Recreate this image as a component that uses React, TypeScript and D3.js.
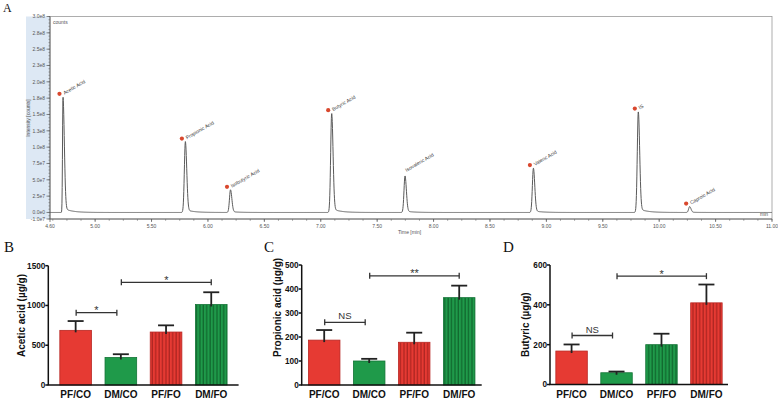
import React from "react";
import * as d3 from "d3";

// ---------- Panel A data (chromatogram peak table) ----------
const peakNames = ["Acetic Acid", "Propionic Acid", "Isobutyric Acid", "Butyric Acid", "Isovaleric Acid", "Valeric Acid", "IS", "Caproic Acid"];
const peakTimes = [4.715, 5.8, 6.2, 7.097, 7.747, 8.885, 9.815, 10.27];
const peakHeights = [1.77e8, 1.085e8, 3.47e7, 1.52e8, 5.6e7, 6.8e7, 1.545e8, 9e6];
const peakMarked = [true, true, true, true, false, true, true, true];

const timeTicks = [4.6, 5.0, 5.5, 6.0, 6.5, 7.0, 7.5, 8.0, 8.5, 9.0, 9.5, 10.0, 10.5, 11.0];
const timeTickLabels = ["4.60", "5.00", "5.50", "6.00", "6.50", "7.00", "7.50", "8.00", "8.50", "9.00", "9.50", "10.00", "10.50", "11.00"];
const intensityTicks = [-1e7, 0, 2.5e7, 5e7, 7.5e7, 1e8, 1.25e8, 1.5e8, 1.75e8, 2e8, 2.25e8, 2.5e8, 2.75e8, 3e8];
const intensityTickLabels = ["-1.0e7", "0.0e0", "2.5e7", "5.0e7", "7.5e7", "1.0e8", "1.3e8", "1.5e8", "1.8e8", "2.0e8", "2.3e8", "2.5e8", "2.8e8", "3.0e8"];

// ---------- Panels B-D data ----------
const groups = ["PF/CO", "DM/CO", "PF/FO", "DM/FO"];

const aceticMean = [687, 346, 666, 1012];
const aceticSem = [117, 41, 84, 154];
const aceticTicks = [0, 500, 1000, 1500];
const aceticSig = [
  { a: 0, b: 1, y: 909, label: "*" },
  { a: 1, b: 3, y: 1291, label: "*" },
];

const propionicMean = [187, 100, 178, 364];
const propionicSem = [42, 9, 40, 50];
const propionicTicks = [0, 100, 200, 300, 400, 500];
const propionicSig = [
  { a: 0, b: 1, y: 261, label: "NS" },
  { a: 1, b: 3, y: 455, label: "**" },
];

const butyricMean = [168, 59, 200, 410];
const butyricSem = [33, 6, 55, 92];
const butyricTicks = [0, 200, 400, 600];
const butyricSig = [
  { a: 0, b: 1, y: 246, label: "NS" },
  { a: 1, b: 3, y: 544, label: "*" },
];

const RED = "#e63a33";
const GREEN = "#1f9a4a";
const RED_DARK = "#9e1f1c";
const GREEN_DARK = "#0c5a27";

type Sig = { a: number; b: number; y: number; label: string };

function Chromatogram() {
  const x = d3.scaleLinear().domain([4.6, 11.0]).range([50, 772]);
  const y = d3.scaleLinear().domain([-1e7, 3e8]).range([219, 16.5]);

  const sL = 0.009;
  const sR = 0.012;
  const tailFrac = 0.04;
  const tau = 0.07;
  const signal = (t: number) => {
    let v = 0;
    for (let i = 0; i < peakTimes.length; i++) {
      const dt = t - peakTimes[i];
      const h = peakHeights[i];
      if (dt < 0) {
        const s = i === 0 ? 0.004 : sL;
        v += h * Math.exp(-0.5 * (dt / s) * (dt / s));
      } else {
        v += h * ((1 - tailFrac) * Math.exp(-0.5 * (dt / sR) * (dt / sR)) + tailFrac * Math.exp(-dt / tau));
      }
    }
    return v;
  };
  const ts = d3.range(4.6, 11.0001, 0.002);
  const line = d3
    .line<number>()
    .x((t) => x(t))
    .y((t) => y(signal(t)));

  const minorY = d3.range(-1e7, 3.0001e8, 5e6);
  const minorX = d3.range(4.625, 11.0001, 0.125);

  const fs = 5;
  return (
    <g fontFamily="Arial, 'Liberation Sans', sans-serif">
      <rect x={26} y={16.5} width={24} height={202.5} fill="#dde8f4" />
      <rect x={50} y={16.5} width={722} height={202.5} fill="#ffffff" stroke="#9a9a9a" strokeWidth={0.8} />
      <line x1={50} x2={50} y1={16.5} y2={219} stroke="#555" strokeWidth={0.8} />
      <line x1={50} x2={772} y1={219} y2={219} stroke="#555" strokeWidth={0.8} />
      {minorY.map((v, i) => (
        <line key={"my" + i} x1={48.5} x2={50} y1={y(v)} y2={y(v)} stroke="#666" strokeWidth={0.6} />
      ))}
      {intensityTicks.map((v, i) => (
        <g key={"yt" + i}>
          <line x1={46.5} x2={50} y1={y(v)} y2={y(v)} stroke="#555" strokeWidth={0.7} />
          <text x={45} y={y(v)} dy="0.35em" textAnchor="end" fontSize={fs} fill="#555">
            {intensityTickLabels[i]}
          </text>
        </g>
      ))}
      {minorX.map((v, i) => (
        <line key={"mx" + i} x1={x(v)} x2={x(v)} y1={219} y2={220.8} stroke="#666" strokeWidth={0.6} />
      ))}
      {timeTicks.map((v, i) => (
        <g key={"xt" + i}>
          <line x1={x(v)} x2={x(v)} y1={219} y2={222} stroke="#555" strokeWidth={0.7} />
          <text x={x(v)} y={227.5} textAnchor="middle" fontSize={fs} fill="#555">
            {timeTickLabels[i]}
          </text>
        </g>
      ))}
      <text x={398} y={234} fontSize={fs} fill="#555">Time [min]</text>
      <text transform="translate(30,118) rotate(-90)" textAnchor="middle" fontSize={fs} fill="#555">
        Intensity [counts]
      </text>
      <text x={53} y={24} fontSize={fs} fill="#555">counts</text>
      <text x={760} y={215.5} fontSize={fs} fill="#555">min</text>
      <path d={line(ts) || ""} fill="none" stroke="#5a5a5a" strokeWidth={1} />
      {peakTimes.map((t, i) => {
        const px = x(t);
        const py = y(peakHeights[i]);
        const mx = px - 3.5;
        const my = py - 3;
        return (
          <g key={"pk" + i}>
            {peakMarked[i] && <circle cx={mx} cy={my} r={2.1} fill="#d9482e" />}
            <text
              transform={`translate(${peakMarked[i] ? mx + 5 : px + 1.5},${peakMarked[i] ? my + 1 : py - 4}) rotate(-30)`}
              fontSize={5}
              fill="#444"
            >
              {peakNames[i]}
            </text>
          </g>
        );
      })}
    </g>
  );
}

type BarProps = {
  id: string;
  axisX: number;
  axisEnd: number;
  outer: number;
  yMax: number;
  yTop: number;
  yBottom: number;
  ticks: number[];
  means: number[];
  sems: number[];
  sig: Sig[];
  fills: string[];
  title: string;
  titleX: number;
  letter: string;
  letterX: number;
};

function BarPanel(p: BarProps) {
  const x = d3.scaleBand<string>().domain(groups).range([p.axisX, p.axisEnd]).paddingInner(0.3).paddingOuter(p.outer);
  const y = d3.scaleLinear().domain([0, p.yMax]).range([p.yBottom, p.yTop]);
  const bw = x.bandwidth();
  const c = (i: number) => (x(groups[i]) as number) + bw / 2;
  const fillOf = (k: string) =>
    k === "red" ? RED : k === "green" ? GREEN : k === "redS" ? `url(#${p.id}-rs)` : `url(#${p.id}-gs)`;
  const strokeOf = (k: string) => (k.startsWith("red") ? "#b82723" : "#137436");
  return (
    <g>
      <defs>
        <pattern id={`${p.id}-rs`} patternUnits="userSpaceOnUse" width={3.4} height={10} x={0}>
          <rect width={3.4} height={10} fill={RED} />
          <rect x={2.2} width={1} height={10} fill={RED_DARK} />
        </pattern>
        <pattern id={`${p.id}-gs`} patternUnits="userSpaceOnUse" width={3.4} height={10} x={0}>
          <rect width={3.4} height={10} fill={GREEN} />
          <rect x={2.2} width={1} height={10} fill={GREEN_DARK} />
        </pattern>
      </defs>
      <text x={p.letterX} y={251.5} fontFamily="'Liberation Serif', 'Times New Roman', serif" fontSize={15} fill="#111">
        {p.letter}
      </text>
      {groups.map((g, i) => {
        const top = y(p.means[i]);
        const et = y(p.means[i] + p.sems[i]);
        return (
          <g key={g}>
            <rect
              x={x(g)}
              y={top}
              width={bw}
              height={p.yBottom - top}
              fill={fillOf(p.fills[i])}
              stroke={strokeOf(p.fills[i])}
              strokeWidth={0.8}
            />
            <line x1={c(i)} x2={c(i)} y1={top + 2} y2={et} stroke="#222" strokeWidth={1.8} />
            <line x1={c(i) - 8} x2={c(i) + 8} y1={et} y2={et} stroke="#222" strokeWidth={1.8} />
          </g>
        );
      })}
      <line x1={p.axisX} x2={p.axisX} y1={p.yTop} y2={p.yBottom} stroke="#111" strokeWidth={1.5} />
      <line x1={p.axisX - 0.75} x2={p.axisEnd} y1={p.yBottom} y2={p.yBottom} stroke="#111" strokeWidth={1.5} />
      <g fontFamily="Arial, 'Liberation Sans', sans-serif" fontWeight="bold" fill="#111">
        {p.ticks.map((v) => (
          <g key={v}>
            <line x1={p.axisX - 3} x2={p.axisX} y1={y(v)} y2={y(v)} stroke="#111" strokeWidth={1.5} />
            <text x={p.axisX - 3} y={y(v)} dy="0.35em" textAnchor="end" fontSize={8.2}>
              {v}
            </text>
          </g>
        ))}
        {groups.map((g, i) => (
          <text key={g} x={c(i)} y={397.5} textAnchor="middle" fontSize={10}>
            {g}
          </text>
        ))}
        <text transform={`translate(${p.titleX},357) rotate(-90)`} fontSize={10}>
          {p.title}
        </text>
      </g>
      {p.sig.map((s, i) => {
        const x1 = c(s.a) + 0.5;
        const x2 = c(s.b) - (i === 0 ? 4 : 0);
        const yy = y(s.y);
        const isNS = s.label === "NS";
        return (
          <g key={"s" + i} stroke="#333" strokeWidth={1.3}>
            <line x1={x1} x2={x2} y1={yy} y2={yy} />
            <line x1={x1} x2={x1} y1={yy - 3} y2={yy + 3} />
            <line x1={x2} x2={x2} y1={yy - 3} y2={yy + 3} />
            <text
              x={(x1 + x2) / 2}
              y={isNS ? yy - 3 : yy + 1.5}
              textAnchor="middle"
              fontFamily="Arial, 'Liberation Sans', sans-serif"
              fontSize={isNS ? 9.5 : 11}
              fill="#333"
              stroke="none"
            >
              {s.label}
            </text>
          </g>
        );
      })}
    </g>
  );
}

export default function App() {
  return (
    <div style={{ position: "absolute", left: 0, top: 0 }}>
      <svg width={778} height={400} viewBox="0 0 778 400" style={{ display: "block", background: "#fff" }}>
        <text x={3} y={12} fontFamily="'Liberation Serif', 'Times New Roman', serif" fontSize={12} fill="#111">
          A
        </text>
        <Chromatogram />
        <BarPanel
          id="b"
          axisX={48.3}
          axisEnd={238.6}
          outer={0.255}
          yMax={1500}
          yTop={265.7}
          yBottom={385}
          ticks={aceticTicks}
          means={aceticMean}
          sems={aceticSem}
          sig={aceticSig}
          fills={["red", "green", "redS", "greenS"]}
          title="Acetic acid (µg/g)"
          titleX={25}
          letter="B"
          letterX={4}
        />
        <BarPanel
          id="c"
          axisX={301.7}
          axisEnd={481.7}
          outer={0.15}
          yMax={500}
          yTop={265}
          yBottom={385}
          ticks={propionicTicks}
          means={propionicMean}
          sems={propionicSem}
          sig={propionicSig}
          fills={["red", "green", "redS", "greenS"]}
          title="Propionic acid (µg/g)"
          titleX={280.5}
          letter="C"
          letterX={264}
        />
        <BarPanel
          id="d"
          axisX={550}
          axisEnd={728}
          outer={0.13}
          yMax={600}
          yTop={265}
          yBottom={384.5}
          ticks={butyricTicks}
          means={butyricMean}
          sems={butyricSem}
          sig={butyricSig}
          fills={["red", "green", "greenS", "redS"]}
          title="Butyric (µg/g)"
          titleX={529}
          letter="D"
          letterX={503}
        />
      </svg>
    </div>
  );
}
